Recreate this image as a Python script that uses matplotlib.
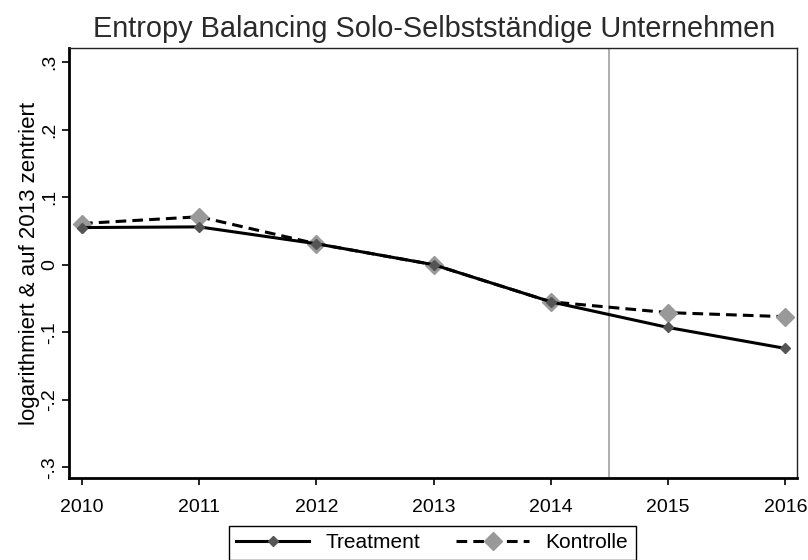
import matplotlib
matplotlib.use("Agg")
import matplotlib.pyplot as plt
from matplotlib.lines import Line2D

plt.rcParams["font.family"] = ["Liberation Sans", "DejaVu Sans"]

# Data
years = [2010, 2011, 2012, 2013, 2014, 2015, 2016]
treatment = [0.055, 0.056, 0.031, 0.0, -0.055, -0.093, -0.124]
kontrolle = [0.061, 0.071, 0.031, 0.0, -0.055, -0.071, -0.077]
y_ticks = [-0.3, -0.2, -0.1, 0.0, 0.1, 0.2, 0.3]
y_labels = ["-.3", "-.2", "-.1", "0", ".1", ".2", ".3"]
treat_start = 2014.5

fig = plt.figure(figsize=(8.08, 5.6), dpi=100)
ax = fig.add_axes([0.0854, 0.1464, 0.9010, 0.7679])

ax.axvline(treat_start, color="#a0a0a0", lw=1.2, zorder=1)

dash = (0, (3.5, 2))
ax.plot(years, treatment, color="black", lw=2.2, marker="D", markersize=5,
        markerfacecolor="#555555", markeredgecolor="#555555", zorder=3)
ax.plot(years, kontrolle, color="black", lw=2.2, ls=dash, marker="D",
        markersize=9, markerfacecolor="#999999", markeredgecolor="#999999", zorder=2)

ax.set_xlim(2009.889, 2016.10)
ax.set_ylim(-0.316, 0.321)
ax.set_xticks(years)
ax.set_yticks(y_ticks)
ax.set_yticklabels(y_labels, rotation=90, va="center")
ax.tick_params(axis="both", labelsize=14, length=5, width=1.2, colors="black")
ax.tick_params(axis="y", pad=3)
ax.tick_params(axis="x", pad=10)

for side in ["left", "bottom"]:
    ax.spines[side].set_linewidth(2)
for side in ["top", "right"]:
    ax.spines[side].set_linewidth(1)
    ax.spines[side].set_color("#222222")

ax.set_ylabel("logarithmiert & auf 2013 zentriert", fontsize=16, labelpad=1)
fig.text(0.537, 0.948, "Entropy Balancing Solo-Selbstständige Unternehmen",
         ha="center", va="center", fontsize=20.8, color="#2a2a2a")

handles = [
    Line2D([], [], color="black", lw=2.2, marker="D", markersize=5,
           markerfacecolor="#555555", markeredgecolor="#555555"),
    Line2D([], [], color="black", lw=2.2, ls=dash, marker="D", markersize=9,
           markerfacecolor="#999999", markeredgecolor="#999999"),
]
leg = fig.legend(handles, ["Treatment", "Kontrolle"], loc="upper center",
                 bbox_to_anchor=(0.535, 0.0607), ncol=2, fontsize=15,
                 handlelength=3.5, handletextpad=0.8, columnspacing=1.7,
                 fancybox=False, edgecolor="black", framealpha=1,
                 borderpad=0.35, borderaxespad=0)
leg.get_frame().set_linewidth(1)

fig.savefig("out.png", dpi=100)
